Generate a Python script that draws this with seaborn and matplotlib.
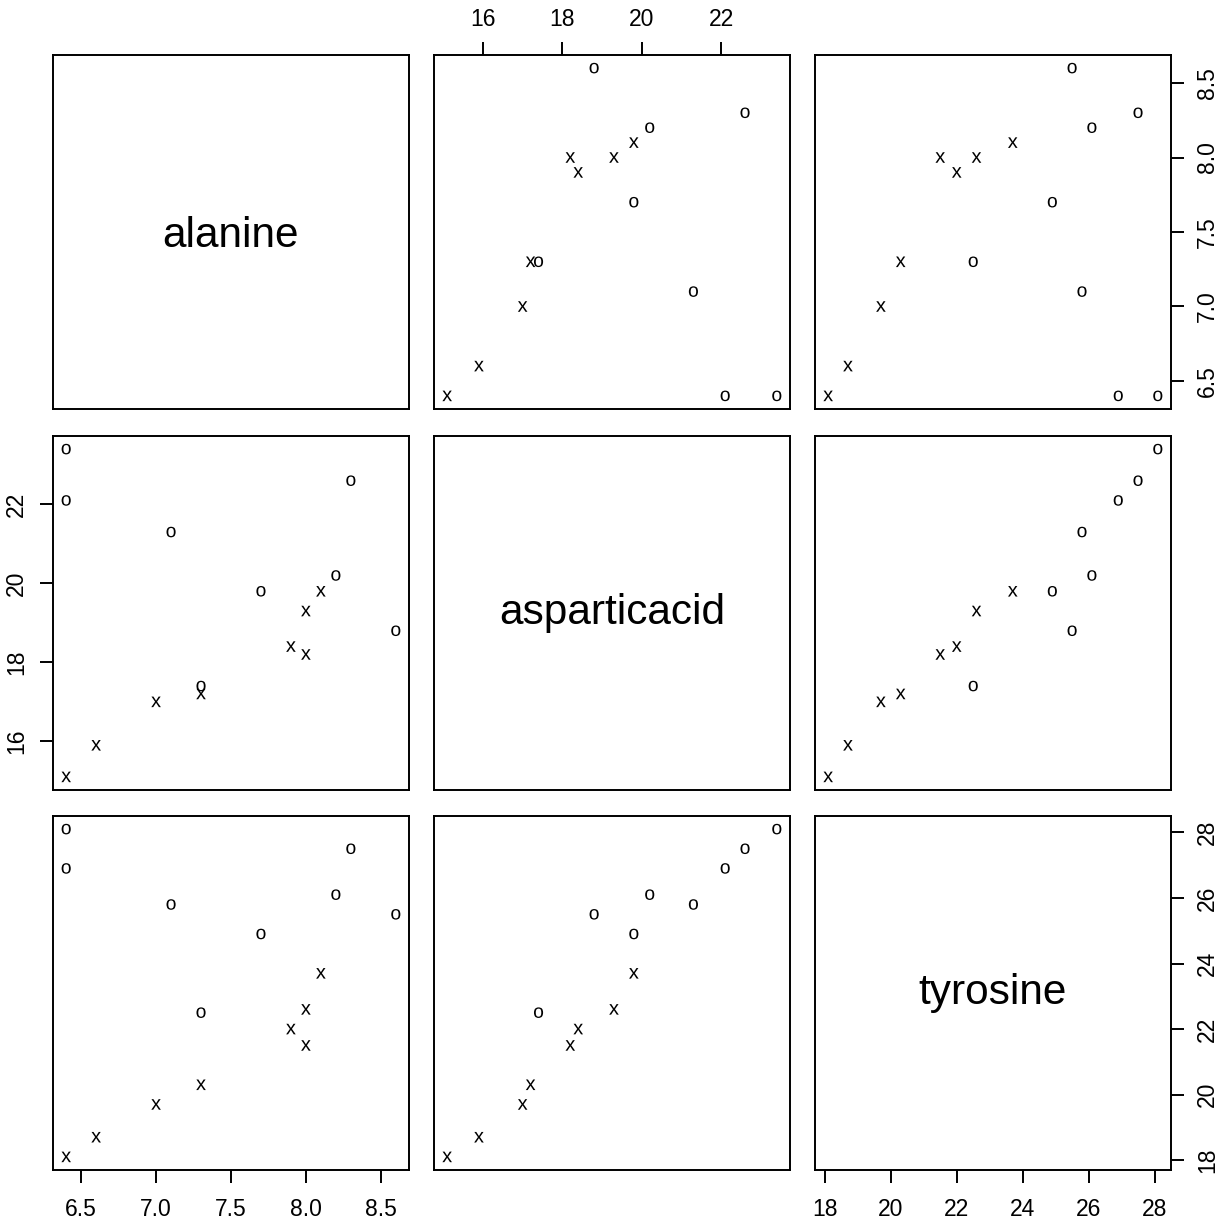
import numpy as np
import pandas as pd
import matplotlib
matplotlib.use("Agg")
import matplotlib.pyplot as plt
import matplotlib.transforms as mtransforms
from matplotlib.textpath import TextPath
from matplotlib.font_manager import FontProperties
import seaborn as sns

# ---- data ----
group = ["x"] * 8 + ["o"] * 8
alanine = [6.4, 6.6, 7.0, 7.3, 7.9, 8.0, 8.0, 8.1,
           6.4, 6.4, 7.1, 7.3, 7.7, 8.2, 8.3, 8.6]
asparticacid = [15.1, 15.9, 17.0, 17.2, 18.4, 18.2, 19.3, 19.8,
                23.4, 22.1, 21.3, 17.4, 19.8, 20.2, 22.6, 18.8]
tyrosine = [18.1, 18.7, 19.7, 20.3, 22.0, 21.5, 22.6, 23.7,
            28.1, 26.9, 25.8, 22.5, 24.9, 26.1, 27.5, 25.5]

var_names = ["alanine", "asparticacid", "tyrosine"]
alanine_ticks = [6.5, 7.0, 7.5, 8.0, 8.5]
alanine_labels = ["6.5", "7.0", "7.5", "8.0", "8.5"]
asp_ticks = [16, 18, 20, 22]
asp_labels = ["16", "18", "20", "22"]
tyr_ticks = [18, 20, 22, 24, 26, 28]
tyr_labels = ["18", "20", "22", "24", "26", "28"]

df = pd.DataFrame({"alanine": alanine, "asparticacid": asparticacid,
                   "tyrosine": tyrosine, "group": group})
ticks = {"alanine": (alanine_ticks, alanine_labels),
         "asparticacid": (asp_ticks, asp_labels),
         "tyrosine": (tyr_ticks, tyr_labels)}

# ---- style ----
sns.set_style("white")
plt.rcParams["font.family"] = ["Liberation Sans", "DejaVu Sans"]
plt.rcParams["mathtext.fontset"] = "custom"
plt.rcParams["mathtext.sf"] = "Liberation Sans"
plt.rcParams["mathtext.rm"] = "Liberation Sans"
plt.rcParams["text.color"] = "black"
plt.rcParams["xtick.color"] = "black"
plt.rcParams["ytick.color"] = "black"
plt.rcParams["xtick.labelcolor"] = "black"
plt.rcParams["ytick.labelcolor"] = "black"

W, H = 1225, 1226
fig = plt.figure(figsize=(W / 100, H / 100), dpi=100)
fig.patch.set_facecolor("white")

col_left = [53, 434, 815]
col_w = 356
row_top = [55, 436, 816]
row_h = 354

def lims(v):
    lo, hi = min(v), max(v)
    pad = 0.04 * (hi - lo)
    return lo - pad, hi + pad

markers = {"x": r"$\mathsf{x}$", "o": r"$\mathsf{o}$"}
LW = 1.4
TL = 9.4
FS = 16.5
PAD = 8.5
DIAG_FS = 30.5
fp = FontProperties(family="Liberation Sans")

for i, yv in enumerate(var_names):
    for j, xv in enumerate(var_names):
        l = col_left[j] / W
        b = 1 - (row_top[i] + row_h) / H
        ax = fig.add_axes([l, b, col_w / W, row_h / H])
        ax.set_facecolor("white")
        for sp in ax.spines.values():
            sp.set_visible(True)
            sp.set_linewidth(LW)
            sp.set_color("black")
        ax.set_xlim(*lims(df[xv]))
        ax.set_ylim(*lims(df[yv]))
        if i == j:
            # centre the ink of the label in the panel
            ext = TextPath((0, 0), xv, size=DIAG_FS, prop=fp).get_extents()
            dy = -(ext.y0 + ext.y1) / 2
            tr = mtransforms.offset_copy(ax.transAxes, fig=fig, x=0, y=dy,
                                         units="points")
            ax.text(0.5, 0.5, xv, transform=tr, ha="center",
                    va="baseline", fontsize=DIAG_FS, color="black")
        else:
            sns.scatterplot(data=df, x=xv, y=yv, style="group",
                            markers=markers, color="black", s=58,
                            linewidth=0, edgecolor="none", legend=False, ax=ax)
        ax.set_xlabel("")
        ax.set_ylabel("")
        ax.tick_params(axis="both", which="both", bottom=False, top=False,
                       left=False, right=False, labelbottom=False,
                       labeltop=False, labelleft=False, labelright=False,
                       length=TL, width=LW, labelsize=FS, pad=PAD,
                       direction="out", color="black", labelcolor="black")
        # x axis ticks
        if (i == 2 and j in (0, 2)) or (i == 0 and j == 1):
            tk, tl = ticks[xv]
            ax.set_xticks(tk)
            ax.set_xticklabels(tl)
            if i == 2:
                ax.tick_params(axis="x", bottom=True, labelbottom=True,
                               pad=PAD + 2.5)
            else:
                ax.tick_params(axis="x", top=True, labeltop=True,
                               pad=PAD - 0.5)
        else:
            ax.set_xticks([])
        # y axis ticks
        if (j == 2 and i in (0, 2)) or (j == 0 and i == 1):
            tk, tl = ticks[yv]
            ax.set_yticks(tk)
            ax.set_yticklabels(tl, rotation=90, va="center")
            if j == 2:
                ax.tick_params(axis="y", right=True, labelright=True)
            else:
                ax.tick_params(axis="y", left=True, labelleft=True)
        else:
            ax.set_yticks([])
        ax.set_xlim(*lims(df[xv]))
        ax.set_ylim(*lims(df[yv]))

fig.savefig("out.png", dpi=100, facecolor="white")
